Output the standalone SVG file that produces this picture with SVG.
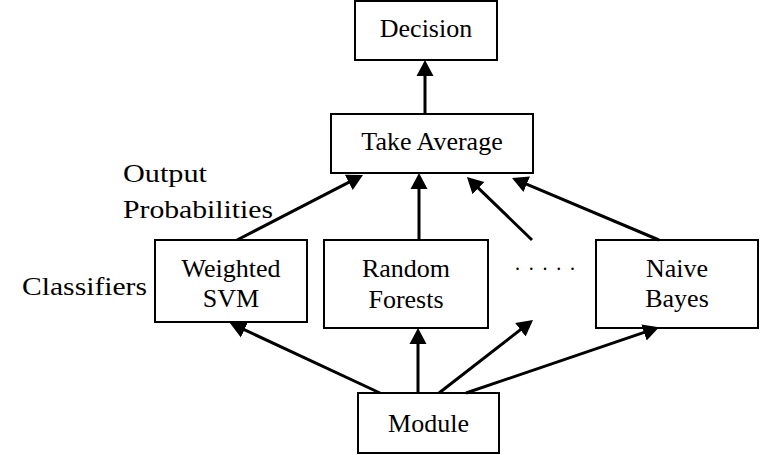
<svg xmlns="http://www.w3.org/2000/svg" width="760" height="455" viewBox="0 0 760 455">
<defs>
<marker id="ah" markerUnits="userSpaceOnUse" markerWidth="17" markerHeight="18" refX="8" refY="8.5" orient="auto" viewBox="0 0 17 17">
<path d="M0,0 L16,8.5 L0,17 z" fill="#000"/>
</marker>
</defs>
<style>
.box{fill:#fff;stroke:#000;stroke-width:2}
.c{text-anchor:middle}
.con line{stroke:#000;stroke-width:3;marker-end:url(#ah)}
</style>
<rect width="760" height="455" fill="#fff"/>
<g font-family="Liberation Serif, DejaVu Serif, serif" font-size="26" fill="#000">
<g id="decision"><rect class="box" x="355" y="1" width="142" height="59"/><text class="c" x="426" y="37">Decision</text></g>
<g id="average"><rect class="box" x="331" y="114" width="202" height="59"/><text class="c" x="432" y="150">Take Average</text></g>
<g id="svm"><rect class="box" x="155" y="240" width="152" height="82"/><text class="c" x="231" y="277">Weighted</text><text class="c" x="231" y="307">SVM</text></g>
<g id="rf"><rect class="box" x="324" y="240" width="164" height="88"/><text class="c" x="406" y="277">Random</text><text class="c" x="406" y="308">Forests</text></g>
<g id="nb"><rect class="box" x="596" y="240" width="162" height="88"/><text class="c" x="677" y="277">Naive</text><text class="c" x="677" y="307">Bayes</text></g>
<g id="module"><rect class="box" x="358" y="393" width="141" height="60"/><text class="c" x="428.5" y="432">Module</text></g>
<g id="dots"><text x="515" y="270" font-size="20" textLength="60" lengthAdjust="spacing">.....</text></g>
<g id="labels">
<text x="123" y="182" textLength="84" lengthAdjust="spacingAndGlyphs">Output</text>
<text x="123" y="218" textLength="150" lengthAdjust="spacingAndGlyphs">Probabilities</text>
<text x="22" y="295" textLength="125" lengthAdjust="spacingAndGlyphs">Classifiers</text>
</g>
</g>
<g class="con" id="connectors">
<line x1="425" y1="114" x2="425" y2="68"/>
<line x1="237" y1="240" x2="355.9" y2="178.7"/>
<line x1="419" y1="240" x2="419" y2="181"/>
<line x1="532" y1="240" x2="472.7" y2="182.6"/>
<line x1="659" y1="240" x2="519.4" y2="181.1"/>
<line x1="380" y1="393" x2="237.2" y2="326.4"/>
<line x1="418" y1="393" x2="418" y2="336"/>
<line x1="439" y1="393" x2="526.7" y2="324.9"/>
<line x1="466" y1="393" x2="651.5" y2="329.9"/>
</g>
</svg>
